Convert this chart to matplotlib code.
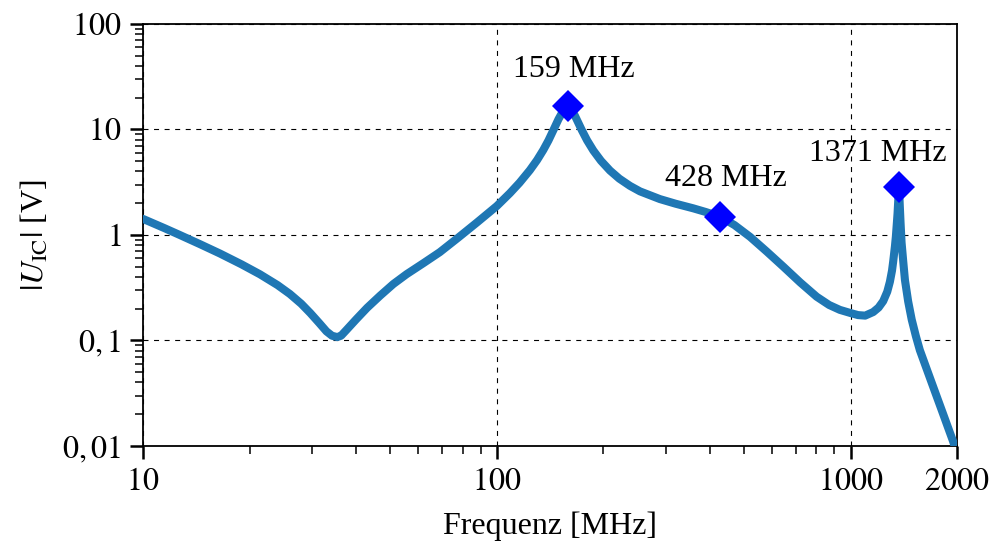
import numpy as np
import matplotlib
matplotlib.use("Agg")
import matplotlib.pyplot as plt
from matplotlib.ticker import FixedLocator, FixedFormatter, LogLocator, NullFormatter

plt.rcParams['font.family'] = ['Liberation Serif', 'DejaVu Serif']
plt.rcParams['mathtext.fontset'] = 'stix'
plt.rcParams['font.size'] = 23

# Spannung am IC ueber der Frequenz
freq = [10, 11.5, 12.7, 14.5, 16.5, 19, 21.4, 24, 26, 28, 29.7, 31.5, 33, 34.2, 35.4,
        36.3, 37.6, 40, 43, 46.8, 51, 55.6, 62, 69, 77.8, 88, 100,
        108.9, 116, 124, 130, 135.4, 140, 144.6, 149.4, 154, 159,
        163, 166.3, 173.9, 180, 187.5, 197, 208.9, 222, 238, 254, 289, 320, 359, 390, 428,
        470, 520, 580, 646, 720, 802, 870, 933, 1000, 1050, 1100, 1159, 1200, 1237, 1270,
        1292, 1310, 1320, 1335, 1343, 1352, 1358, 1365, 1371,
        1378, 1385, 1394, 1410, 1425, 1455, 1489, 1530, 1570, 1630, 1694, 1760, 1829,
        1890, 1945, 1965, 1985]
u_ic = [1.42, 1.16, 1.0, 0.817, 0.667, 0.526, 0.424, 0.335, 0.276, 0.223, 0.182, 0.146, 0.122, 0.111, 0.1076,
        0.111, 0.126, 0.158, 0.204, 0.266, 0.343, 0.425, 0.54, 0.687, 0.944, 1.318, 1.88,
        2.49, 3.13, 4.11, 5.13, 6.40, 7.87, 9.89, 12.5, 15.0, 16.8,
        15.2, 13.5, 9.86, 7.89, 6.31, 5.05, 4.08, 3.42, 2.92, 2.59, 2.19, 1.98, 1.79, 1.65, 1.49,
        1.24, 0.96, 0.695, 0.50, 0.356, 0.26, 0.217, 0.195, 0.182, 0.174, 0.172, 0.186, 0.205, 0.236, 0.29,
        0.36, 0.46, 0.56, 0.78, 0.96, 1.3, 1.6, 2.2, 2.85,
        1.9, 1.3, 0.85, 0.55, 0.374, 0.235, 0.158, 0.11, 0.081, 0.0573, 0.0402, 0.0283, 0.0199,
        0.0147, 0.0113, 0.0102, 0.0093]

# Resonanzstellen
peak_f = [159, 428, 1371]
peak_u = [16.8, 1.49, 2.85]
peak_labels = ['159 MHz', '428 MHz', '1371 MHz']
label_offsets = [(6, 29), (6, 31), (-21, 26)]

y_ticks = [0.01, 0.1, 1, 10, 100]
y_ticklabels = ['$0,01$', '$0,1$', '$1$', '$10$', '$100$']
x_ticks = [10, 100, 1000, 2000]
x_ticklabels = ['$10$', '$100$', '$1000$', '$2000$']

fig = plt.figure(figsize=(9.94, 5.45), dpi=100)
ax = fig.add_axes([0.1439, 0.1817, 0.8189, 0.7743])

ax.plot(freq, u_ic, color='#1f77b4', lw=5.8, solid_capstyle='round', solid_joinstyle='round', zorder=3)
ax.plot(peak_f, peak_u, 'D', color='#0000ff', markersize=16.5, markeredgewidth=0, zorder=4)

for f, u, txt, off in zip(peak_f, peak_u, peak_labels, label_offsets):
    ax.annotate(txt, xy=(f, u), xytext=off, textcoords='offset pixels',
                ha='center', va='baseline')

ax.set_xscale('log')
ax.set_yscale('log')
ax.set_xlim(10, 2000)
ax.set_ylim(0.01, 100)

ax.xaxis.set_major_locator(FixedLocator(x_ticks))
ax.xaxis.set_major_formatter(FixedFormatter(x_ticklabels))
ax.xaxis.set_minor_locator(LogLocator(base=10, subs=np.arange(2, 10), numticks=20))
ax.xaxis.set_minor_formatter(NullFormatter())
ax.yaxis.set_major_locator(FixedLocator(y_ticks))
ax.yaxis.set_major_formatter(FixedFormatter(y_ticklabels))
ax.yaxis.set_minor_locator(LogLocator(base=10, subs=np.arange(2, 10), numticks=20))
ax.yaxis.set_minor_formatter(NullFormatter())

ax.tick_params(which='major', direction='out', length=9.5, width=1.8, pad=6)
ax.tick_params(which='minor', direction='out', length=5.5, width=1.1)
for s in ax.spines.values():
    s.set_linewidth(1.3)

ax.grid(True, which='major', color='black', lw=0.8, linestyle=(0, (4.5, 5)))

ax.set_xlabel('Frequenz [MHz]', labelpad=11)
ax.set_ylabel(r'$|U_{\mathrm{IC}}|$ [V]', labelpad=8)

fig.savefig('out.png', dpi=100)
